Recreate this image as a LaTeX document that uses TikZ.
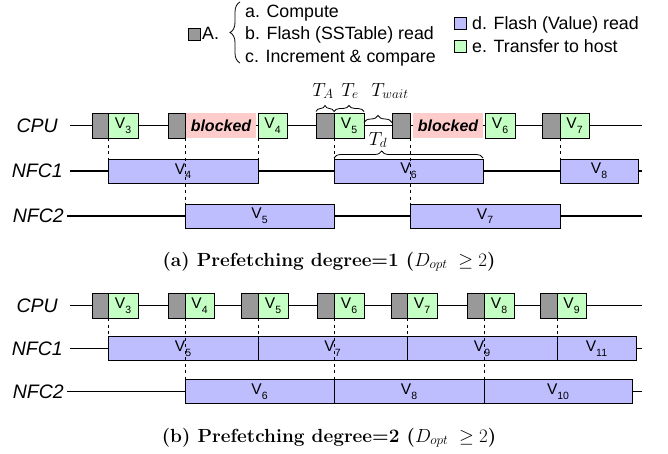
\RequirePackage{fix-cm}
\documentclass[tikz,border=0pt]{standalone}
\usepackage{fontspec}
\setsansfont{Liberation Sans}
\usetikzlibrary{decorations.pathreplacing}
\definecolor{agray}{RGB}{153,153,153}
\definecolor{vgreen}{RGB}{196,255,196}
\definecolor{vpurple}{RGB}{190,190,255}
\definecolor{bpink}{RGB}{255,204,204}
\newcommand{\vlab}[1]{V\raisebox{-0.3em}{\fontsize{10.5}{11}\selectfont #1}}
\begin{document}
\begin{tikzpicture}[x=1pt,y=-1pt,
  box/.style={draw=black, line width=0.8pt, inner sep=0pt, outer sep=0pt, anchor=west, font=\sffamily\fontsize{15.5}{15.5}\selectfont},
  abox/.style={box, fill=agray, minimum height=25},
  ebox/.style={box, fill=vgreen, minimum height=25},
  dbox/.style={box, fill=vpurple, minimum height=24},
  blk/.style={box, draw=none, fill=bpink, minimum height=25, font=\sffamily\bfseries\itshape\fontsize{16}{16}\selectfont},
  tl/.style={line width=1.7pt},
  dsh/.style={line width=0.8pt, dash pattern=on 3pt off 3.5pt},
  rowlab/.style={anchor=east, font=\sffamily\itshape\fontsize{19.5}{20}\selectfont, inner sep=0pt},
  brc/.style={decorate, decoration={brace, amplitude=#1}, line width=0.8pt},
  brc/.default=5pt,
  tlab/.style={anchor=base, inner sep=0pt, font=\fontsize{19}{19}\selectfont},
  leg/.style={anchor=base west, inner sep=0pt, font=\sffamily\fontsize{17.8}{21}\selectfont},
  lsq/.style={draw=black, line width=0.8pt, inner sep=0pt, minimum size=12, anchor=west},
  captxt/.style={anchor=base, inner sep=0pt, font=\bfseries\fontsize{19}{19}\selectfont}
]
\useasboundingbox (0,0) rectangle (668,453);

% ---------------- legend ----------------
\node[lsq, fill=agray] (lgA) at (188,34) {};
\node[leg] (lgAt) at (202,39.5) {A.};
\coordinate (lbrb) at (240,63);
\coordinate (lbrt) at (240,2);
\draw[brc=10pt] (lbrb) -- (lbrt);
\node[leg] (lga) at (245,17) {a. Compute};
\node[leg] (lgb) at (245,39.5) {b. Flash (SSTable) read};
\node[leg] (lgc) at (245,62) {c. Increment \& compare};
\node[lsq, fill=vpurple] (lgD) at (454,23) {};
\node[leg] (lgd) at (472,29) {d. Flash (Value) read};
\node[lsq, fill=vgreen] (lgE) at (454,46) {};
\node[leg] (lge) at (472,52.5) {e. Transfer to host};

% ---------------- (a) ----------------
\node[rowlab] (cpuA) at (58,125.5) {CPU};
\node[rowlab] (nfa1) at (63,171) {NFC1};
\node[rowlab] (nfa2) at (64,216) {NFC2};
\coordinate (cpuAs) at (70,125.5); \coordinate (cpuAe) at (642,125.5);
\coordinate (nfa1s) at (70,171); \coordinate (nfa1e) at (642,171);
\coordinate (nfa2s) at (67,216); \coordinate (nfa2e) at (642,216);
\draw[tl] (cpuAs) -- (cpuAe);
\draw[tl] (nfa1s) -- (nfa1e);
\draw[tl] (nfa2s) -- (nfa2e);

\node[abox, minimum width=16] (ga1) at (92,125.5) {};
\node[ebox, minimum width=30] (ea3) at (108,125.5) {\vlab{3}};
\node[abox, minimum width=17] (ga2) at (168,125.5) {};
\node[blk, minimum width=70] (bla1) at (186,125.5) {blocked};
\node[ebox, minimum width=29] (ea4) at (258,125.5) {\vlab{4}};
\node[abox, minimum width=18] (ga3) at (316,125.5) {};
\node[ebox, minimum width=30] (ea5) at (334,125.5) {\vlab{5}};
\node[abox, minimum width=18] (ga4) at (392,125.5) {};
\node[blk, minimum width=70] (bla2) at (413,125.5) {blocked};
\node[ebox, minimum width=30] (ea6) at (485,125.5) {\vlab{6}};
\node[abox, minimum width=18] (ga5) at (542,125.5) {};
\node[ebox, minimum width=29] (ea7) at (560,125.5) {\vlab{7}};

\node[dbox, minimum width=150] (na4) at (108,171) {\vlab{4}};
\node[dbox, minimum width=149] (na6) at (334,171) {\vlab{6}};
\node[dbox, minimum width=78] (na8) at (560,171) {\vlab{8}};
\node[dbox, minimum width=149] (na5) at (185,216) {\vlab{5}};
\node[dbox, minimum width=150] (na7) at (410,216) {\vlab{7}};

\draw[dsh] (ea3.south west) -- (na4.north west);
\draw[dsh] (ga2.south east) -- (na5.north west);
\draw[dsh] (ea4.south west) -- (na4.north east);
\draw[dsh] (ea5.south west) -- (na6.north west);
\draw[dsh] (ga4.south east) -- (na7.north west);
\draw[dsh] (ea7.south west) -- (na8.north west);

% braces
\draw[brc=6pt] ([yshift=1.5pt]ga3.north west) -- ([yshift=1.5pt]ga3.north east);
\draw[brc=6pt] ([yshift=1.5pt]ea5.north west) -- ([yshift=1.5pt]ea5.north east);
\draw[brc=7pt] ([yshift=3pt]ea5.east) -- ([yshift=3pt]ga4.west);
\draw[decorate, decoration={brace, amplitude=7pt, aspect=0.32}, line width=0.8pt] ([yshift=1pt]na6.north west) -- ([yshift=1pt]na6.north east);
\node[tlab] (tA) at (323,96) {$T_A$};
\node[tlab] (tE) at (350,96) {$T_e$};
\node[tlab] (tW) at (390,96) {$T_{wait}$};
\node[tlab] (tD) at (378,145) {$T_d$};

\node[captxt] (capA) at (329,266) {(a) Prefetching degree=1 ($D_{opt}\;\geq 2$)};

% ---------------- (b) ----------------
\node[rowlab] (cpuB) at (58,305.5) {CPU};
\node[rowlab] (nfb1) at (63,348.5) {NFC1};
\node[rowlab] (nfb2) at (64,391.5) {NFC2};
\coordinate (cpuBs) at (70,305.5); \coordinate (cpuBe) at (642,305.5);
\coordinate (nfb1s) at (70,348.5); \coordinate (nfb1e) at (642,348.5);
\coordinate (nfb2s) at (67,391.5); \coordinate (nfb2e) at (642,391.5);
\draw[tl] (cpuBs) -- (cpuBe);
\draw[tl] (nfb1s) -- (nfb1e);
\draw[tl] (nfb2s) -- (nfb2e);

\node[abox, minimum width=16] (gb1) at (92,305.5) {};
\node[ebox, minimum width=30] (eb3) at (108,305.5) {\vlab{3}};
\node[abox, minimum width=17] (gb2) at (168,305.5) {};
\node[ebox, minimum width=29] (eb4) at (185,305.5) {\vlab{4}};
\node[abox, minimum width=17] (gb3) at (241,305.5) {};
\node[ebox, minimum width=30] (eb5) at (258,305.5) {\vlab{5}};
\node[abox, minimum width=17] (gb4) at (317,305.5) {};
\node[ebox, minimum width=30] (eb6) at (334,305.5) {\vlab{6}};
\node[abox, minimum width=16] (gb5) at (391,305.5) {};
\node[ebox, minimum width=30] (eb7) at (407,305.5) {\vlab{7}};
\node[abox, minimum width=17] (gb6) at (467,305.5) {};
\node[ebox, minimum width=30] (eb8) at (484,305.5) {\vlab{8}};
\node[abox, minimum width=17] (gb7) at (540,305.5) {};
\node[ebox, minimum width=29] (eb9) at (557,305.5) {\vlab{9}};

\node[dbox, minimum width=150] (nb5) at (108,348.5) {\vlab{5}};
\node[dbox, minimum width=149] (nb7) at (258,348.5) {\vlab{7}};
\node[dbox, minimum width=150] (nb9) at (407,348.5) {\vlab{9}};
\node[dbox, minimum width=79] (nb11) at (557,348.5) {\vlab{11}};
\node[dbox, minimum width=149] (nb6) at (185,391.5) {\vlab{6}};
\node[dbox, minimum width=150] (nb8) at (334,391.5) {\vlab{8}};
\node[dbox, minimum width=148] (nb10) at (484,391.5) {\vlab{10}};

\draw[dsh] (eb3.south west) -- (nb5.north west);
\draw[dsh] (eb4.south west) -- (nb6.north west);
\draw[dsh] (eb5.south west) -- (nb7.north west);
\draw[dsh] (eb6.south west) -- (nb8.north west);
\draw[dsh] (eb7.south west) -- (nb9.north west);
\draw[dsh] (eb8.south west) -- (nb10.north west);
\draw[dsh] (eb9.south west) -- (nb11.north west);

\node[captxt] (capB) at (329,442) {(b) Prefetching degree=2 ($D_{opt}\;\geq 2$)};
\end{tikzpicture}
\end{document}
